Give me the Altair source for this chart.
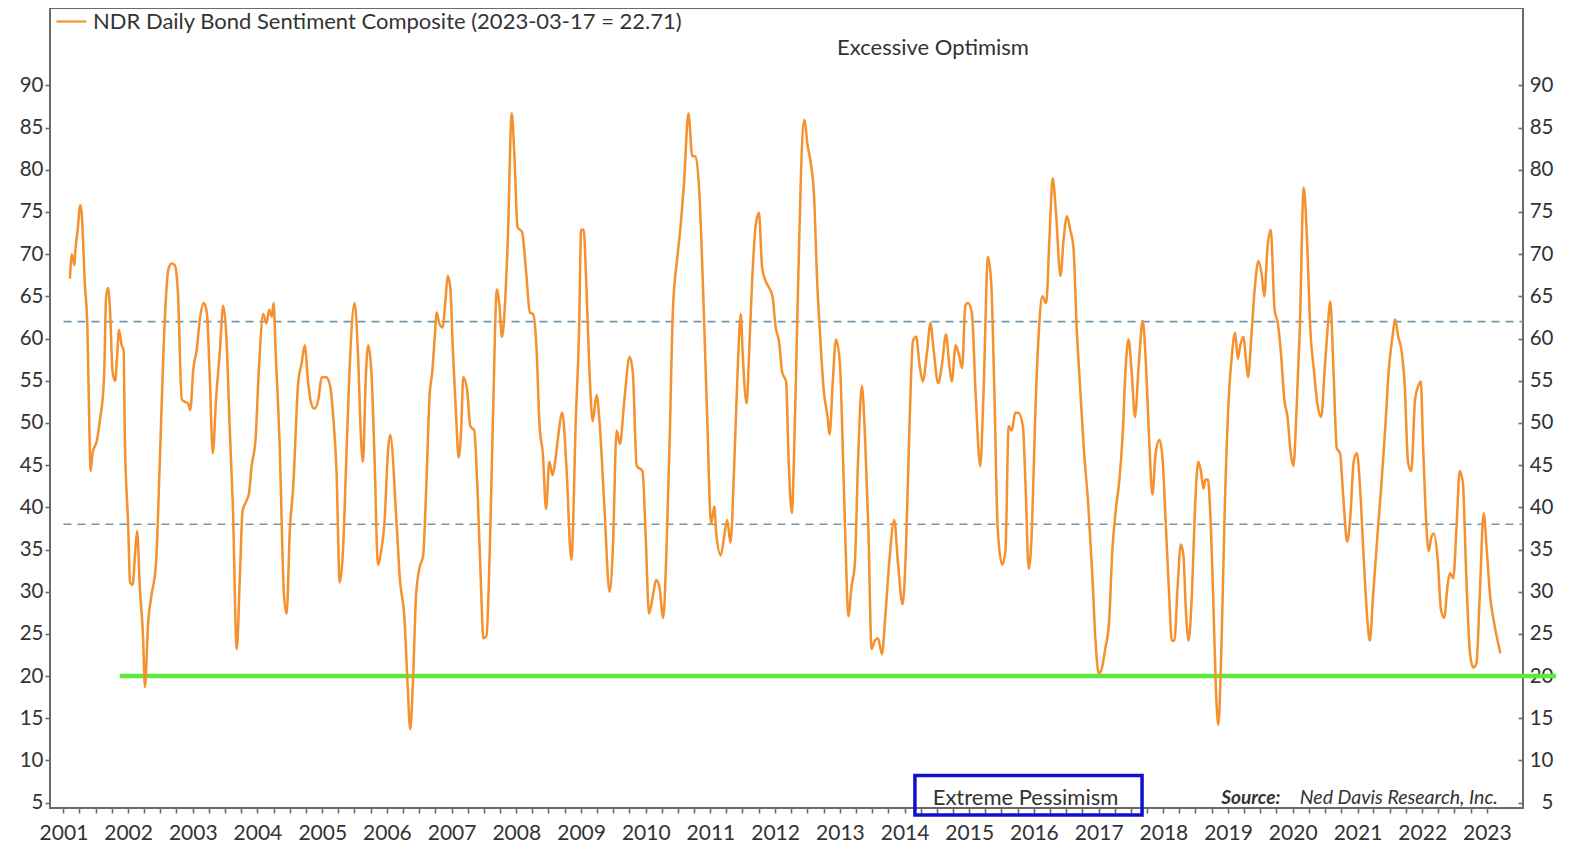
import altair as alt
import pandas as pd

SERIES_NAME = "NDR Daily Bond Sentiment Composite (2023-03-17 = 22.71)"

years = [
    2001.10, 2001.13, 2001.17, 2001.18, 2001.22, 2001.26, 2001.28, 2001.33, 2001.37, 2001.40, 2001.42, 2001.45, 2001.52,
    2001.57, 2001.59, 2001.63, 2001.66, 2001.69, 2001.72, 2001.76, 2001.80, 2001.83, 2001.86, 2001.90, 2001.93, 2001.95,
    2002.00, 2002.03, 2002.07, 2002.11, 2002.14, 2002.18, 2002.23, 2002.26, 2002.31, 2002.36, 2002.43, 2002.49, 2002.55,
    2002.62, 2002.67, 2002.72, 2002.77, 2002.83, 2002.88, 2002.93, 2002.96,
    2003.01, 2003.06, 2003.11, 2003.17, 2003.22, 2003.26, 2003.31, 2003.36, 2003.42, 2003.47, 2003.52, 2003.57, 2003.62,
    2003.68, 2003.73, 2003.77, 2003.82, 2003.87, 2003.91, 2003.97,
    2004.02, 2004.09, 2004.14, 2004.18, 2004.22, 2004.25, 2004.28, 2004.34, 2004.41, 2004.45, 2004.50, 2004.55, 2004.63,
    2004.68, 2004.73, 2004.78, 2004.83, 2004.88, 2004.94, 2004.99,
    2005.06, 2005.12, 2005.17, 2005.22, 2005.27, 2005.32, 2005.37, 2005.42, 2005.50, 2005.55, 2005.60, 2005.63, 2005.67,
    2005.71, 2005.76, 2005.81, 2005.86, 2005.91, 2005.96,
    2006.02, 2006.05, 2006.15, 2006.20, 2006.27, 2006.32, 2006.36, 2006.40, 2006.45, 2006.50, 2006.56, 2006.61, 2006.66,
    2006.70, 2006.74, 2006.77, 2006.81, 2006.86, 2006.91, 2006.94, 2006.98,
    2007.02, 2007.07, 2007.11, 2007.15, 2007.18, 2007.24, 2007.29, 2007.35, 2007.40, 2007.46, 2007.49, 2007.54, 2007.59,
    2007.64, 2007.70, 2007.74, 2007.78, 2007.82, 2007.87, 2007.93, 2007.97,
    2008.02, 2008.09, 2008.15, 2008.21, 2008.26, 2008.31, 2008.36, 2008.41, 2008.46, 2008.51, 2008.56, 2008.60, 2008.64,
    2008.71, 2008.77, 2008.85, 2008.92, 2008.97,
    2009.00, 2009.04, 2009.08, 2009.13, 2009.18, 2009.24, 2009.29, 2009.36, 2009.44, 2009.49, 2009.55, 2009.60, 2009.67,
    2009.75, 2009.80, 2009.86, 2009.95,
    2010.00, 2010.05, 2010.11, 2010.16, 2010.21, 2010.27, 2010.32, 2010.37, 2010.42, 2010.49, 2010.54, 2010.59, 2010.66,
    2010.72, 2010.77, 2010.83, 2010.89, 2010.95,
    2011.01, 2011.06, 2011.09, 2011.16, 2011.21, 2011.26, 2011.31, 2011.37, 2011.42, 2011.47, 2011.50, 2011.56, 2011.60,
    2011.65, 2011.70, 2011.75, 2011.80, 2011.86, 2011.91, 2011.96,
    2012.01, 2012.06, 2012.11, 2012.17, 2012.21, 2012.26, 2012.29, 2012.34, 2012.40, 2012.45, 2012.50, 2012.55, 2012.60,
    2012.65, 2012.70, 2012.75, 2012.81, 2012.84, 2012.89, 2012.94,
    2013.00, 2013.05, 2013.09, 2013.13, 2013.18, 2013.23, 2013.28, 2013.34, 2013.39, 2013.44, 2013.49, 2013.54, 2013.59,
    2013.65, 2013.70, 2013.76, 2013.84, 2013.90, 2013.97,
    2014.02, 2014.08, 2014.13, 2014.18, 2014.23, 2014.28, 2014.35, 2014.40, 2014.45, 2014.52, 2014.58, 2014.64, 2014.69,
    2014.73, 2014.79, 2014.84, 2014.89, 2014.94, 2014.98,
    2015.04, 2015.10, 2015.17, 2015.22, 2015.29, 2015.34, 2015.39, 2015.44, 2015.51, 2015.56, 2015.61, 2015.66, 2015.71,
    2015.76, 2015.83, 2015.87, 2015.92, 2015.97,
    2016.02, 2016.08, 2016.13, 2016.19, 2016.24, 2016.29, 2016.34, 2016.41, 2016.46, 2016.51, 2016.56, 2016.61, 2016.66,
    2016.72, 2016.77, 2016.84, 2016.90, 2016.95,
    2017.00, 2017.05, 2017.10, 2017.16, 2017.21, 2017.27, 2017.32, 2017.37, 2017.42, 2017.46, 2017.51, 2017.56, 2017.62,
    2017.68, 2017.73, 2017.78, 2017.83, 2017.88, 2017.94, 2017.99,
    2018.04, 2018.09, 2018.13, 2018.17, 2018.22, 2018.27, 2018.31, 2018.35, 2018.39, 2018.44, 2018.49, 2018.54, 2018.58,
    2018.62, 2018.65, 2018.69, 2018.72, 2018.77, 2018.81, 2018.85, 2018.90, 2018.95,
    2019.01, 2019.06, 2019.11, 2019.15, 2019.19, 2019.24, 2019.27, 2019.31, 2019.36, 2019.42, 2019.47, 2019.52, 2019.56,
    2019.61, 2019.66, 2019.72, 2019.77, 2019.82, 2019.87, 2019.92, 2019.97,
    2020.01, 2020.06, 2020.11, 2020.17, 2020.22, 2020.27, 2020.33, 2020.38, 2020.44, 2020.49, 2020.54, 2020.58, 2020.63,
    2020.68, 2020.73, 2020.78, 2020.84, 2020.89, 2020.94, 2020.99,
    2021.04, 2021.09, 2021.15, 2021.19, 2021.24, 2021.31, 2021.37, 2021.43, 2021.48, 2021.54, 2021.58, 2021.63, 2021.68,
    2021.73, 2021.78, 2021.83, 2021.89, 2021.94, 2021.98,
    2022.01, 2022.05, 2022.10, 2022.14, 2022.18, 2022.24, 2022.29, 2022.34, 2022.39, 2022.43, 2022.48, 2022.53, 2022.58,
    2022.63, 2022.68, 2022.74, 2022.79, 2022.84, 2022.89, 2022.95,
    2023.00, 2023.05, 2023.11, 2023.21,
]

# sentiment composite values
values = [
    67.1, 70.0, 68.7, 70.0, 72.9, 75.8, 75.0, 66.6, 61.3, 49.6, 44.3, 46.4, 48.0,
    50.7, 51.7, 56.0, 65.0, 66.0, 63.4, 56.0, 55.0, 58.0, 61.0, 59.2, 58.6, 48.0,
    38.0, 31.1, 30.8, 34.8, 37.2, 30.6, 24.8, 18.7, 26.4, 29.5, 33.2, 45.4, 59.2,
    68.1, 68.9, 68.7, 65.5, 52.8, 52.5, 52.3, 51.5,
    56.5, 58.6, 62.3, 64.2, 62.9, 56.0, 46.4, 52.8, 58.6, 63.9, 60.2, 49.6, 40.1,
    23.2, 32.2, 39.6, 40.6, 41.7, 44.9, 48.0,
    56.0, 62.9, 61.8, 63.4, 62.6, 64.2, 58.6, 48.0, 29.5, 27.4, 37.4, 42.2, 54.9,
    57.0, 59.2, 54.9, 52.3, 51.7, 52.8, 55.4,
    55.4, 54.4, 50.7, 44.3, 31.1, 34.8, 45.4, 56.0, 64.2, 58.6, 48.0, 45.4, 54.9,
    59.2, 56.0, 45.4, 33.2, 34.8, 38.0,
    47.0, 48.6, 38.0, 31.5, 26.9, 18.9, 13.7, 18.9, 29.5, 32.7, 34.3, 42.8, 53.3,
    56.0, 60.2, 63.1, 61.8, 61.3, 65.0, 67.4, 66.0,
    58.6, 50.7, 45.9, 49.6, 55.4, 53.9, 49.6, 49.1, 42.2, 29.5, 24.5, 24.8, 34.8,
    50.7, 65.8, 63.9, 60.2, 63.4, 71.9, 86.7, 81.9,
    73.2, 72.6, 68.1, 63.1, 62.9, 59.2, 49.6, 46.4, 39.8, 45.4, 43.8, 45.4, 48.0,
    51.2, 45.4, 33.8, 50.7, 61.3,
    72.9, 72.9, 66.6, 56.0, 50.2, 53.3, 49.6, 40.1, 30.0, 34.8, 49.1, 47.5, 52.8,
    57.8, 56.0, 44.9, 44.3,
    36.4, 27.4, 29.5, 31.4, 30.6, 26.9, 34.8, 48.0, 63.4, 69.7, 73.4, 78.2, 86.7,
    81.6, 81.6, 77.1, 65.0, 50.7,
    38.0, 40.1, 36.9, 34.3, 36.4, 38.5, 35.8, 45.4, 56.0, 62.9, 58.1, 52.3, 58.6,
    67.6, 73.4, 74.9, 68.4, 66.7, 66.0, 65.0,
    61.3, 59.7, 56.0, 54.9, 45.4, 39.3, 45.4, 61.3, 79.8, 85.9, 83.0, 80.8, 77.1,
    66.6, 59.7, 53.9, 50.7, 48.6, 54.9, 59.9,
    57.0, 45.4, 34.8, 27.1, 30.6, 33.2, 45.4, 54.4, 48.0, 37.5, 23.2, 24.2, 24.5,
    22.6, 26.9, 33.2, 38.5, 33.2, 28.5,
    34.8, 50.7, 59.7, 60.2, 57.0, 54.9, 58.6, 61.8, 58.6, 54.7, 57.0, 60.5, 57.0,
    54.9, 59.2, 58.1, 56.5, 63.9, 64.2,
    63.1, 53.3, 44.9, 53.3, 69.7, 66.6, 53.3, 37.5, 33.2, 34.8, 49.6, 49.1, 51.2,
    51.2, 49.6, 42.8, 32.7, 37.5,
    50.7, 61.3, 65.0, 64.2, 71.9, 79.0, 75.0, 67.4, 71.9, 74.5, 72.9, 70.8, 61.3,
    53.3, 47.0, 40.1, 32.2, 24.2,
    20.3, 21.0, 23.2, 26.4, 34.8, 40.1, 43.3, 48.6, 57.0, 59.9, 56.0, 50.7, 57.0,
    62.1, 57.0, 48.0, 41.5, 46.4, 48.0, 45.4,
    37.5, 29.5, 24.2, 24.2, 30.6, 35.6, 34.3, 27.4, 24.2, 29.5, 40.1, 45.4, 44.3,
    42.2, 43.3, 43.3, 40.1, 29.5, 18.9, 14.2, 24.2, 40.1,
    52.8, 58.1, 60.7, 57.6, 59.2, 60.2, 58.1, 55.4, 60.2, 66.6, 69.2, 67.6, 65.0,
    70.8, 72.9, 63.4, 61.8, 58.1, 52.8, 50.7, 46.4,
    44.9, 51.7, 61.3, 77.9, 71.9, 61.3, 56.0, 52.3, 50.7, 56.0, 61.3, 64.4, 56.0,
    47.0, 46.4, 41.2, 35.9, 39.0, 45.4, 46.4,
    42.2, 34.8, 26.9, 24.2, 29.5, 36.9, 42.8, 49.6, 56.0, 60.2, 62.3, 60.2, 58.6,
    54.4, 45.4, 44.3, 52.8, 54.4, 54.9,
    48.0, 40.1, 34.8, 36.4, 36.9, 33.8, 27.9, 26.9, 30.6, 32.2, 31.6, 37.5, 44.3,
    42.8, 32.2, 22.6, 21.0, 21.6, 29.5, 39.3,
    34.8, 29.5, 26.4, 22.71,
]

upper_band = 62      # dashed guide lines
lower_band = 38
extreme_level = 20   # green "extreme pessimism" line
y_tick_values = list(range(5, 95, 5))

ORANGE = "#F5912E"
GUIDE = "#6E97AE"
GREEN = "#5CEB3C"
BLUE = "#1010D0"
TEXT = "#333333"
AXIS = "#6a6a6a"
FONT = "Lato"


def to_ts(y):
    yr = int(y)
    a = pd.Timestamp(year=yr, month=1, day=1)
    b = pd.Timestamp(year=yr + 1, month=1, day=1)
    return a + (b - a) * (y - yr)


line_df = pd.DataFrame({
    "date": [to_ts(y) for y, _ in zip(years, values)],
    "value": [v for _, v in zip(years, values)],
    "series": SERIES_NAME,
})

x_scale = alt.Scale(domain=[alt.DateTime(year=2000, month=10, date=17),
                            alt.DateTime(year=2023, month=7, date=24)])
y_scale = alt.Scale(domain=[4.37, 99.17], nice=False, zero=False)

quarter_ticks = [alt.DateTime(year=y, month=m, date=1)
                 for y in range(2001, 2024) for m in (1, 4, 7, 10)
                 if (y, m) <= (2023, 1)]

x_axis = alt.Axis(values=quarter_ticks, title=None, grid=False, domain=False,
                  labelExpr="month(datum.value) === 0 ? timeFormat(datum.value, '%Y') : ''",
                  labelOverlap=False, labelFlush=False, tickSize=5, labelPadding=9,
                  labelFontSize=21)
y_left = alt.Axis(values=y_tick_values, orient="left", title=None, grid=False,
                  domain=False, tickSize=5, labelPadding=2, labelFontSize=20.5)
y_right = alt.Axis(values=y_tick_values, orient="right", title=None, grid=False,
                   domain=False, tickSize=5, offset=-5, labelAlign="right",
                   labelPadding=30, labelFontSize=20.5)


def X(f):
    return alt.X(f, type="temporal", scale=x_scale, axis=x_axis)


def Y(f):
    return alt.Y(f, type="quantitative", scale=y_scale, axis=None)


# dashed guide lines
guides_df = pd.DataFrame({
    "start": [to_ts(2001.0), to_ts(2001.0)],
    "end": [to_ts(2023.56), to_ts(2023.56)],
    "level": [upper_band, lower_band],
})
guides = alt.Chart(guides_df).mark_rule(color=GUIDE, strokeWidth=1.6, strokeDash=[8, 6]).encode(
    x=X("start"), x2="end", y=Y("level"))

green_df = pd.DataFrame({"start": [to_ts(2001.87)], "end": [to_ts(2024.07)], "level": [extreme_level]})
green = alt.Chart(green_df).mark_rule(color=GREEN, strokeWidth=4.5).encode(
    x=X("start"), x2="end", y=Y("level"))

line = alt.Chart(line_df).mark_line(strokeWidth=2.5, interpolate="monotone").encode(
    x=X("date"),
    y=alt.Y("value:Q", scale=y_scale, axis=y_left),
    color=alt.Color("series:N", scale=alt.Scale(domain=[SERIES_NAME], range=[ORANGE]),
                    legend=alt.Legend(title=None, orient="none", legendX=5, legendY=-3,
                                      symbolType="stroke", symbolSize=900, symbolStrokeWidth=2.2,
                                      labelFont=FONT, labelFontSize=22, labelColor=TEXT,
                                      labelOffset=5, padding=0, labelLimit=1000)),
)

right_axis = alt.Chart(line_df).mark_line(opacity=0).encode(
    x=X("date"), y=alt.Y("value:Q", scale=y_scale, axis=y_right))

labels_df = pd.DataFrame({
    "date": [to_ts(2014.44), to_ts(2015.87)],
    "value": [94.4, 5.6],
    "label": ["Excessive Optimism", "Extreme Pessimism"],
})
labels = alt.Chart(labels_df).mark_text(font=FONT, fontSize=22, color=TEXT, align="center",
                                        baseline="middle").encode(
    x=X("date"), y=Y("value"), text="label:N")

box_df = pd.DataFrame({"start": [to_ts(2014.16)], "end": [to_ts(2017.67)], "lo": [3.55], "hi": [8.23]})
box = alt.Chart(box_df).mark_rect(fillOpacity=0, stroke=BLUE, strokeWidth=3.5).encode(
    x=X("start"), x2="end", y=Y("lo"), y2="hi")

src_df = pd.DataFrame({"date": [to_ts(2019.81)], "value": [5.5], "label": ["Source:"]})
src = alt.Chart(src_df).mark_text(font=FONT, fontSize=19, fontStyle="italic", fontWeight="bold",
                                  color=TEXT, align="right", baseline="middle").encode(
    x=X("date"), y=Y("value"), text="label:N")
org_df = pd.DataFrame({"date": [to_ts(2023.17)], "value": [5.5], "label": ["Ned Davis Research, Inc."]})
org = alt.Chart(org_df).mark_text(font=FONT, fontSize=19.5, fontStyle="italic",
                                  color=TEXT, align="right", baseline="middle").encode(
    x=X("date"), y=Y("value"), text="label:N")

chart = (
    alt.layer(guides, green, line, labels, box, src, org, right_axis)
    .resolve_scale(y="shared", x="shared")
    .resolve_axis(y="independent")
    .properties(width=1473, height=800,
                padding={"left": 11, "top": -3, "right": 5, "bottom": 0})
    .configure_view(stroke=AXIS, strokeWidth=2)
    .configure_axis(labelFont=FONT, labelColor=TEXT, tickColor=AXIS, tickWidth=1.6)
)

chart.save("out.html", embed_options={"renderer": "svg", "actions": False})
